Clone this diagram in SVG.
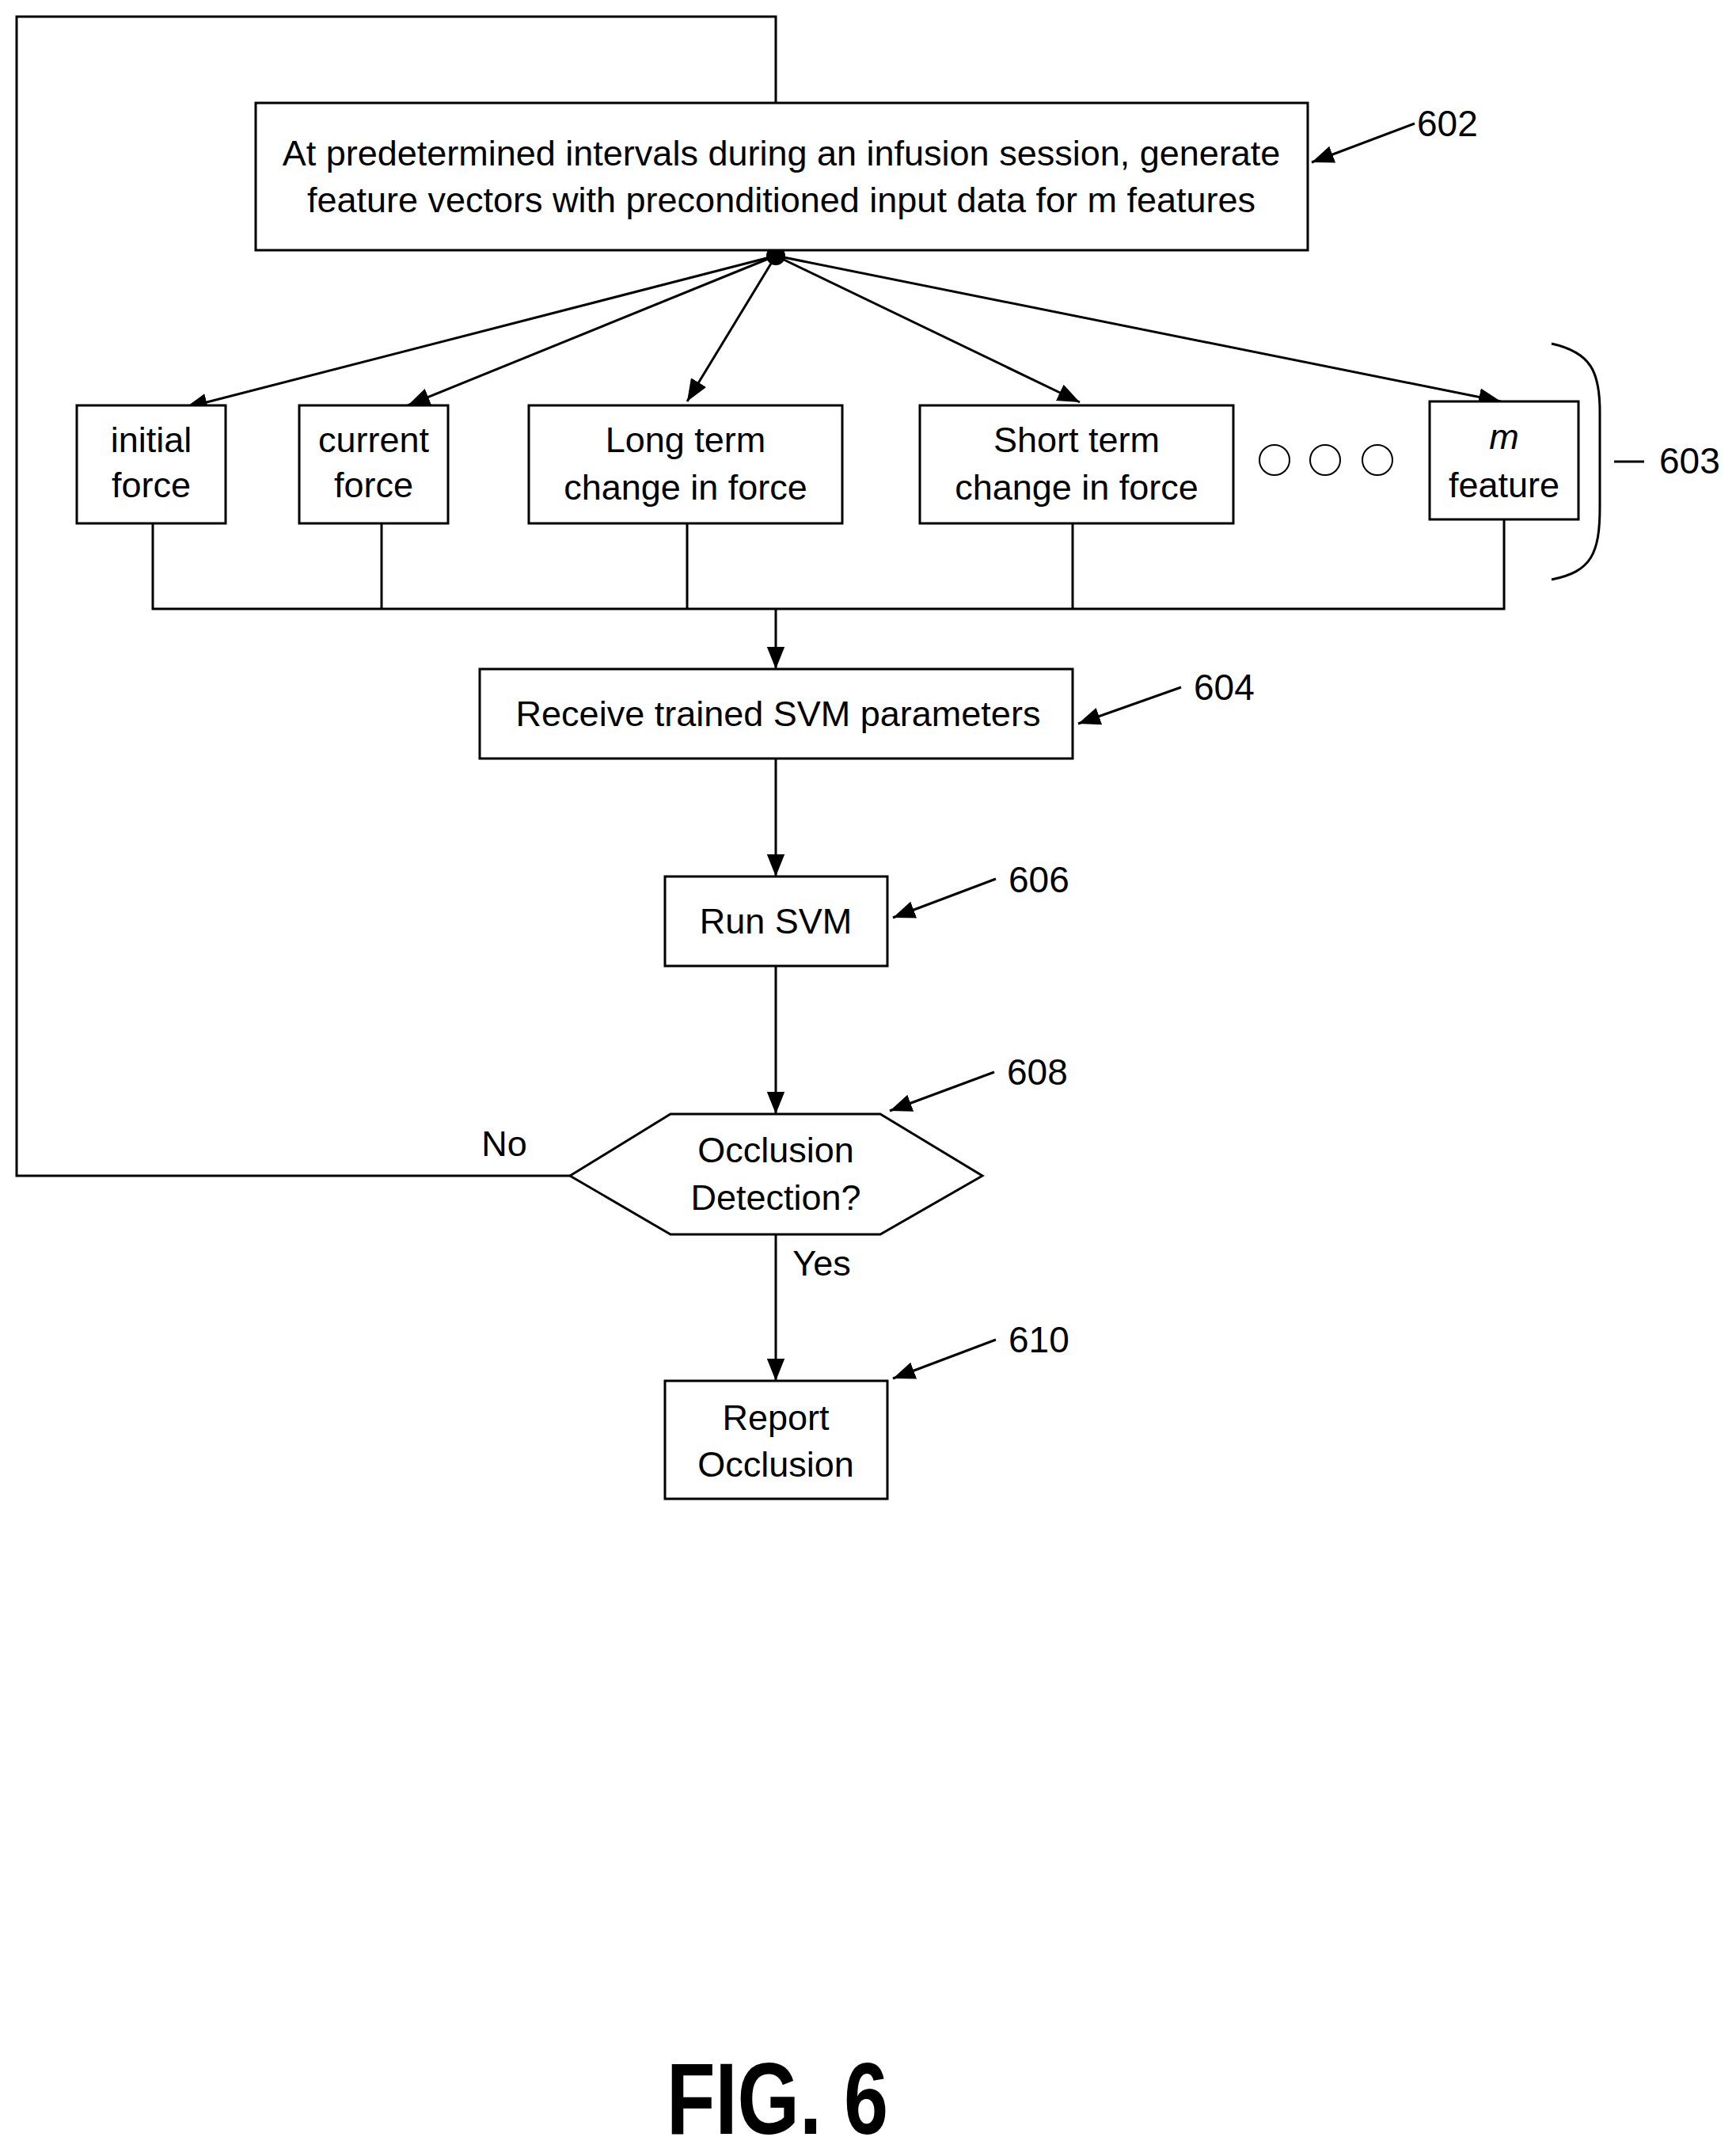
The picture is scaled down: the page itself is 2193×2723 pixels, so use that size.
<svg xmlns="http://www.w3.org/2000/svg" width="2193" height="2723" viewBox="0 0 2193 2723">
<style>
.b{fill:#fff;stroke:#000;stroke-width:3}
.l{fill:none;stroke:#000;stroke-width:3}
text{font-family:"Liberation Sans",Arial,sans-serif;font-size:45px;fill:#000;text-anchor:middle}
.n{text-anchor:start;font-size:46px}
.fig{font-size:128px;font-weight:bold}
</style>
<defs>
<marker id="h" viewBox="0 0 10 10" refX="10" refY="5" markerWidth="28" markerHeight="28" markerUnits="userSpaceOnUse" orient="auto"><path d="M0,1L10,5L0,9z"/></marker></defs>
<rect width="2193" height="2723" fill="#fff"/>
<g id="connectors">
<polyline class="l" points="980,130 980,21 21,21 21,1485 720,1485"/>
<line class="l" x1="980" y1="323" x2="234" y2="515" marker-end="url(#h)"/>
<line class="l" x1="980" y1="323" x2="515" y2="512" marker-end="url(#h)"/>
<line class="l" x1="980" y1="323" x2="868" y2="507" marker-end="url(#h)"/>
<line class="l" x1="980" y1="323" x2="1364" y2="508" marker-end="url(#h)"/>
<line class="l" x1="980" y1="323" x2="1896" y2="507" marker-end="url(#h)"/>
<polyline class="l" points="193,661 193,769 1900,769 1900,656"/>
<line class="l" x1="482" y1="661" x2="482" y2="769"/>
<line class="l" x1="868" y1="661" x2="868" y2="769"/>
<line class="l" x1="1355" y1="661" x2="1355" y2="769"/>
<line class="l" x1="980" y1="769" x2="980" y2="845" marker-end="url(#h)"/>
<line class="l" x1="980" y1="958" x2="980" y2="1107" marker-end="url(#h)"/>
<line class="l" x1="980" y1="1220" x2="980" y2="1407" marker-end="url(#h)"/>
<line class="l" x1="980" y1="1559" x2="980" y2="1744" marker-end="url(#h)"/>
<line class="l" x1="1787" y1="156" x2="1657" y2="205" marker-end="url(#h)"/>
<line class="l" x1="1492" y1="868" x2="1362" y2="914" marker-end="url(#h)"/>
<line class="l" x1="1258" y1="1110" x2="1128" y2="1159" marker-end="url(#h)"/>
<line class="l" x1="1256" y1="1354" x2="1124" y2="1403" marker-end="url(#h)"/>
<line class="l" x1="1258" y1="1692" x2="1128" y2="1741" marker-end="url(#h)"/>
<path class="l" stroke-width="2" d="M1960,434 C2010,445 2021,470 2021,520 L2021,640 C2021,700 2010,722 1960,732"/>
<line class="l" stroke-width="2" x1="2039" y1="583" x2="2077" y2="583"/>
<circle cx="980" cy="323" r="12"/>
</g>
<g id="n602"><rect class="b" x="323" y="130" width="1329" height="186"/><text x="987" y="209">At predetermined intervals during an infusion session, generate</text><text x="987" y="268">feature vectors with preconditioned input data for m features</text><text class="n" x="1790" y="172">602</text></g>
<g id="f1"><rect class="b" x="97" y="512" width="188" height="149"/><text x="191" y="571">initial</text><text x="191" y="628">force</text></g>
<g id="f2"><rect class="b" x="378" y="512" width="188" height="149"/><text x="472" y="571">current</text><text x="472" y="628">force</text></g>
<g id="f3"><rect class="b" x="668" y="512" width="396" height="149"/><text x="866" y="571">Long term</text><text x="866" y="631">change in force</text></g>
<g id="f4"><rect class="b" x="1162" y="512" width="396" height="149"/><text x="1360" y="571">Short term</text><text x="1360" y="631">change in force</text></g>
<g id="dots" fill="none" stroke="#000" stroke-width="2"><circle cx="1610" cy="581" r="19"/><circle cx="1674" cy="581" r="19"/><circle cx="1740" cy="581" r="19"/></g>
<g id="f5"><rect class="b" x="1806" y="507" width="188" height="149"/><text x="1900" y="567" font-style="italic">m</text><text x="1900" y="628">feature</text></g>
<g id="n603"><text class="n" x="2096" y="598">603</text></g>
<g id="n604"><rect class="b" x="606" y="845" width="749" height="113"/><text x="983" y="917">Receive trained SVM parameters</text><text class="n" x="1508" y="884">604</text></g>
<g id="n606"><rect class="b" x="840" y="1107" width="281" height="113"/><text x="980" y="1179">Run SVM</text><text class="n" x="1274" y="1127">606</text></g>
<g id="n608"><polygon class="b" points="720,1485 847,1407 1112,1407 1241,1485 1112,1559 847,1559"/><text x="980" y="1468">Occlusion</text><text x="980" y="1528">Detection?</text><text class="n" x="1272" y="1370">608</text><text x="637" y="1460">No</text><text x="1038" y="1611">Yes</text></g>
<g id="n610"><rect class="b" x="840" y="1744" width="281" height="149"/><text x="980" y="1806">Report</text><text x="980" y="1865">Occlusion</text><text class="n" x="1274" y="1708">610</text></g>
<text class="fig" x="982" y="2695" textLength="280" lengthAdjust="spacingAndGlyphs">FIG. 6</text>
</svg>
